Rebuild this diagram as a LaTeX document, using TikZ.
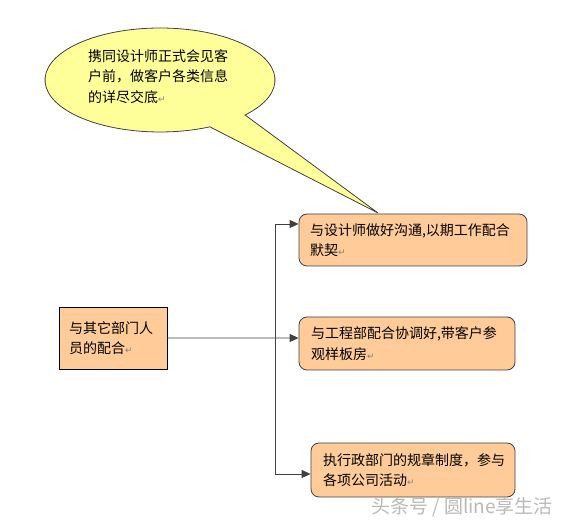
\documentclass[tikz,border=0pt]{standalone}
\usepackage{fontspec}
\usetikzlibrary{arrows.meta,calc}
\setmainfont{Noto Sans CJK SC}
\newfontfamily\symfont{DejaVu Sans}
\definecolor{peach}{HTML}{FFCC99}
\definecolor{paleyellow}{HTML}{FFFF99}
\definecolor{edge}{HTML}{404040}
\newcommand{\retmark}{{\color{gray}\symfont\fontsize{9bp}{9bp}\selectfont ↵}}
\begin{document}
\begin{tikzpicture}[x=1bp,y=1bp,
  txt/.style={font=\fontsize{14bp}{20.5bp}\selectfont, align=left, inner ysep=0pt},
  roundbox/.style={txt, draw=edge, line width=0.8bp, fill=peach, rounded corners=8bp, anchor=center},
  squarebox/.style={txt, draw=black, line width=0.8bp, fill=peach, anchor=center},
  link/.style={draw=edge, line width=0.9bp},
  arrowlink/.style={link, -{Triangle[length=9bp,width=8bp]}}]
\useasboundingbox (0,0) rectangle (569,523);
% callout
\draw[edge, line width=0.8bp, fill=paleyellow]
  ($(160,443)+(-42.3:115bp and 52bp)$) arc[start angle=-42.3, end angle=295.7, x radius=115bp, y radius=52bp]
  -- (378,310) -- cycle;
\node[txt, anchor=north west, text width=160bp, inner sep=0pt] (note) at (88,474)
  {携同设计师正式会见客\\户前，做客户各类信息\\的详尽交底\retmark};
% boxes
\node[roundbox, minimum height=52bp, text width=206bp, inner xsep=11bp] (b1) at (413,283)
  {与设计师做好沟通,以期工作配合\\默契\retmark};
\node[roundbox, minimum height=53bp, text width=192bp, inner xsep=12bp] (b2) at (407,179.5)
  {与工程部配合协调好,带客户参\\观样板房\retmark};
\node[roundbox, minimum height=54bp, text width=180bp, inner xsep=12bp] (b3) at (413,53)
  {执行政部门的规章制度，参与\\各项公司活动\retmark};
\node[squarebox, minimum height=62bp, text width=88bp, inner xsep=10bp] (left) at (113,185)
  {与其它部门人\\员的配合\retmark};
% connectors
\coordinate (j) at (275,185);
\draw[arrowlink] (left.east) -- ([yshift=5.5bp]b2.west);
\draw[arrowlink] (j) |- ([yshift=16bp]b1.west);
\draw[arrowlink] (j) |- ([yshift=-4bp]b3.west);
% watermark
\node[font=\fontsize{19bp}{19bp}\selectfont, text=gray!55, inner sep=0pt] (wm) at (462,16) {头条号 / 圆line享生活};
\end{tikzpicture}
\end{document}
